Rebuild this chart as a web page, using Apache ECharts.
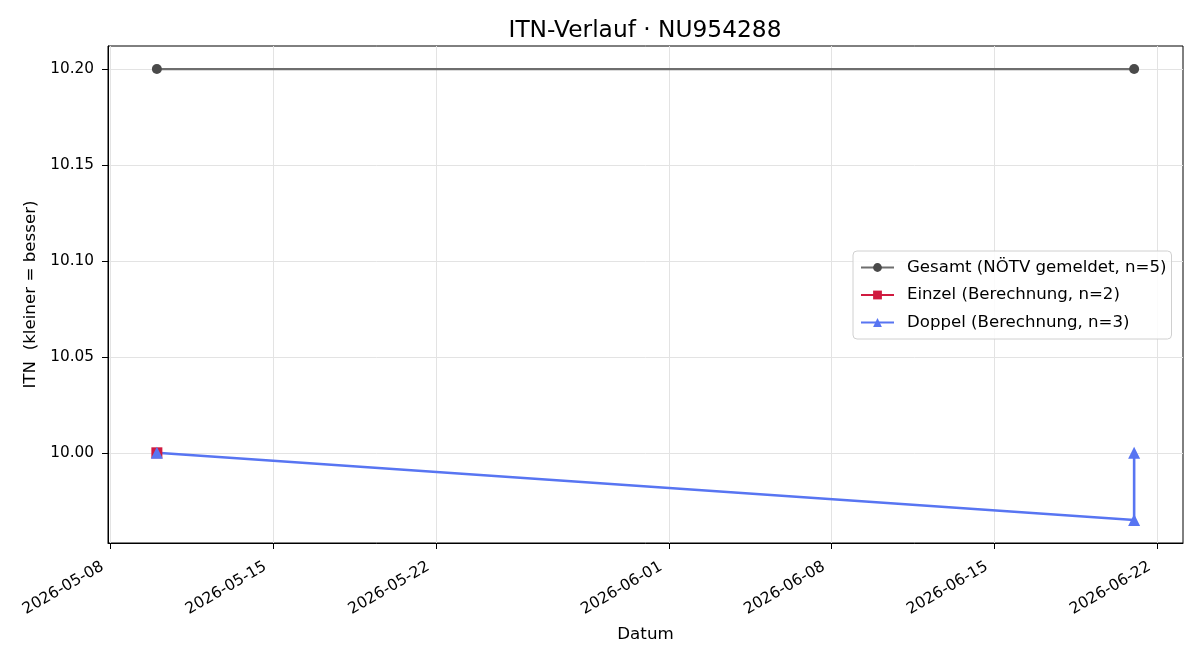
<!DOCTYPE html>
<html>
<head>
<meta charset="utf-8">
<script src="https://cdn.jsdelivr.net/npm/echarts@6/dist/echarts.min.js"></script>
<style>
  html, body { margin: 0; padding: 0; background: #fff; }
  #main { width: 1200px; height: 660px; }
</style>
</head>
<body>
<div id="main"></div>
<script>
// Daten
const gesamtDates = ['2026-05-10', '2026-06-21']
const gesamtValues = [10.20, 10.20]
const einzelDates = ['2026-05-10']
const einzelValues = [10.00]
const doppelDates = ['2026-05-10', '2026-06-21', '2026-06-21']
const doppelValues = [10.00, 9.965, 10.00]
const xTickDates = ['2026-05-08', '2026-05-15', '2026-05-22', '2026-06-01', '2026-06-08', '2026-06-15', '2026-06-22']
const yTicks = [10.00, 10.05, 10.10, 10.15, 10.20]

// Datum als Tage seit 1970 (UTC), damit die Zeitzone egal ist
function dayNum(s) {
  const p = s.split('-').map(Number)
  return Date.UTC(p[0], p[1] - 1, p[2]) / 86400000
}
function dayLabel(v) {
  const d = new Date(Math.round(v) * 86400000)
  const pad = n => (n < 10 ? '0' : '') + n
  return d.getUTCFullYear() + '-' + pad(d.getUTCMonth() + 1) + '-' + pad(d.getUTCDate())
}
function pairs(dates, values) {
  return dates.map((d, i) => [dayNum(d), values[i]])
}

const font = 'DejaVu Sans'

const chart = echarts.init(document.getElementById('main'))
chart.setOption({
  animation: false,
  textStyle: { fontFamily: font },
  title: {
    text: 'ITN-Verlauf · NU954288',
    left: 640, top: 14, textAlign: 'center',
    textStyle: { fontFamily: font, fontSize: 23.3, fontWeight: 'normal', color: '#000' }
  },
  grid: {
    left: 108, right: 17, top: 46, bottom: 117,
    show: true, borderColor: '#000', borderWidth: 1
  },
  legend: {
    orient: 'vertical',
    left: 853, top: 251,
    padding: [8, 5, 8, 7],
    itemGap: 10.5,
    itemWidth: 33, itemHeight: 11,
    backgroundColor: 'rgba(255,255,255,0.85)',
    borderColor: '#d0d0d0', borderWidth: 1, borderRadius: 4,
    textStyle: { fontFamily: font, fontSize: 16.6, color: '#000', padding: [0, 0, 0, 8] }
  },
  xAxis: {
    type: 'value',
    min: dayNum('2026-05-10') - 2.1,
    max: dayNum('2026-06-21') + 2.1,
    name: 'Datum', nameLocation: 'middle', nameGap: 83,
    nameTextStyle: { fontFamily: font, fontSize: 16.7, color: '#000' },
    axisLine: { show: true, onZero: false, lineStyle: { color: '#000' } },
    axisTick: { show: true, inside: false, length: 6, lineStyle: { color: '#000' }, customValues: xTickDates.map(dayNum) },
    axisLabel: {
      rotate: 30, margin: 18,
      padding: [0, 9, 0, 0],
      fontFamily: font, fontSize: 15.6, color: '#000',
      customValues: xTickDates.map(dayNum),
      formatter: v => dayLabel(v)
    },
    splitLine: { show: true, lineStyle: { color: '#e3e3e3', width: 1 } }
  },
  yAxis: {
    type: 'value',
    min: 9.953, max: 10.212,
    name: 'ITN  (kleiner = besser)', nameLocation: 'middle', nameGap: 65,
    nameTextStyle: { fontFamily: font, fontSize: 16.7, color: '#000' },
    axisLine: { show: true, lineStyle: { color: '#000' } },
    axisTick: { show: true, length: 6, lineStyle: { color: '#000' }, customValues: yTicks },
    axisLabel: {
      fontFamily: font, fontSize: 15.3, color: '#000', margin: 14,
      customValues: yTicks,
      formatter: v => v.toFixed(2)
    },
    splitLine: { show: true, lineStyle: { color: '#e3e3e3', width: 1 } }
  },
  series: [
    {
      name: 'Gesamt (NÖTV gemeldet, n=5)',
      type: 'line',
      data: pairs(gesamtDates, gesamtValues),
      symbol: 'circle', symbolSize: 10,
      itemStyle: { color: '#4a4a4a' },
      lineStyle: { color: '#6e6e6e', width: 2.2 }
    },
    {
      name: 'Einzel (Berechnung, n=2)',
      type: 'line',
      data: pairs(einzelDates, einzelValues),
      symbol: 'rect', symbolSize: 11,
      itemStyle: { color: '#d01a3f' },
      lineStyle: { color: '#d01a3f', width: 2.5 }
    },
    {
      name: 'Doppel (Berechnung, n=3)',
      type: 'line',
      data: pairs(doppelDates, doppelValues),
      symbol: 'triangle', symbolSize: 12,
      itemStyle: { color: '#5875f2' },
      lineStyle: { color: '#5875f2', width: 2.6 }
    }
  ]
})
</script>
</body>
</html>
